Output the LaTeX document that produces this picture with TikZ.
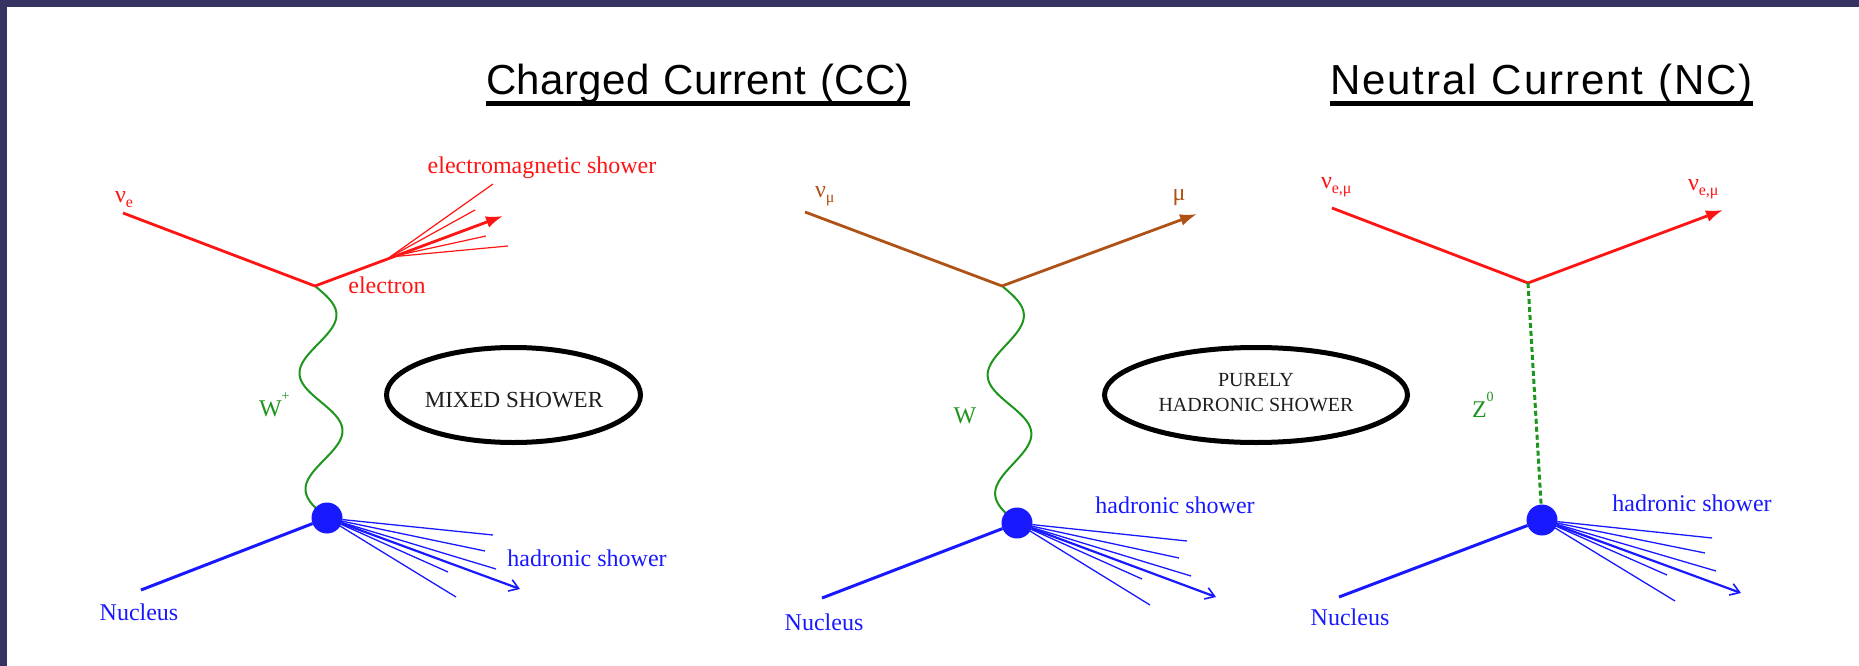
\documentclass[tikz,border=0pt]{standalone}
\usepackage{fontspec}
\setmainfont{Liberation Serif}
\newfontfamily\headfont[LetterSpace=1]{Liberation Sans}
\newfontfamily\headfontwide[LetterSpace=4.5]{Liberation Sans}
\usetikzlibrary{arrows.meta,calc,shapes.geometric}
\definecolor{frameblue}{RGB}{52,51,98}
\definecolor{nured}{RGB}{255,20,20}
\definecolor{mubrown}{RGB}{176,82,22}
\definecolor{bosongreen}{RGB}{30,150,30}
\definecolor{hadblue}{RGB}{25,25,255}
\definecolor{inktext}{RGB}{30,30,30}
% lowered / raised indices for particle labels
\newcommand{\lowidx}[1]{\raisebox{-5pt}{\fontsize{16}{16}\selectfont #1}}
\newcommand{\highidx}[1]{\raisebox{16pt}{\fontsize{14}{14}\selectfont #1}}
\pgfdeclarelayer{paper}
\pgfdeclarelayer{back}
\pgfsetlayers{paper,back,main}

\begin{document}
\begin{tikzpicture}[x=1pt,y=-1pt,
  every node/.style={inner sep=0pt, outer sep=0pt},
  lab/.style={font=\fontsize{24}{28}\selectfont, anchor=base},
  heading/.style={font=\fontsize{42}{48}\selectfont, anchor=base west},
  uline/.style={line width=4.5pt},
  fermion/.style={line width=2.8pt},
  fermionarrow/.style={line width=2.8pt, -{Latex[length=17pt,width=12pt]}},
  emray/.style={nured, line width=1.2pt},
  hadray/.style={hadblue, line width=1.3pt},
  hadarrow/.style={hadblue, line width=2.2pt, -{Straight Barb[length=9pt,width=12pt,line width=1.6pt]}},
  nucleusline/.style={hadblue, line width=3pt},
  vertexdot/.style={circle, fill=hadblue, minimum size=31pt},
  wboson/.style={bosongreen, line width=2pt, line join=round},
  zboson/.style={bosongreen, line width=3pt, dash pattern=on 5pt off 3pt},
  showerbox/.style={ellipse, draw=black, line width=5pt, minimum height=95pt},
  showertext/.style={text=inktext, align=center}
]
\useasboundingbox (0,0) rectangle (1859,666);
\begin{pgfonlayer}{paper}
\fill[white] (0,0) rectangle (1859,666);
\fill[frameblue] (0,0) rectangle (1859,7);
\fill[frameblue] (0,0) rectangle (7,666);
\end{pgfonlayer}

% ---------- headings ----------
\node[heading] (cc) at (486,95) {\headfont\makebox[424pt][s]{Charged Current (CC)}};
\draw[uline] ([yshift=-8.5pt]cc.base west) -- ([yshift=-8.5pt]cc.base east);
\node[heading] (nc) at (1330,95) {\headfontwide\makebox[423pt][s]{Neutral Current (NC)}};
\draw[uline] ([yshift=-8.5pt]nc.base west) -- ([yshift=-8.5pt]nc.base east);

% ---------- CC, electron neutrino ----------
\coordinate (in1) at (123,213);
\coordinate (v1) at (315,286);
\coordinate (e1) at (503,216);
\coordinate (f1) at (390,257);
\coordinate (em1) at (493,184);
\coordinate (em2) at (475,210);
\coordinate (em3) at (486,236);
\coordinate (em4) at (508,246);
\node[vertexdot] (d1) at (327,518) {};
\coordinate (n1) at (141,590);
\coordinate (h1a) at (493,535);
\coordinate (h1b) at (485,551);
\coordinate (h1c) at (496,569);
\coordinate (h1d) at (448,572);
\coordinate (h1e) at (456,597);
\coordinate (h1x) at (520,589);

\draw[fermion, nured] (in1) -- (v1);
\draw[fermionarrow, nured] (v1) -- (e1);
\foreach \t in {em1,em2,em3,em4} \draw[emray] (f1) -- (\t);
% W boson: two sine periods from the lepton vertex to the nucleus blob
\begin{pgfonlayer}{back}
\draw[wboson] let \p1=(v1), \p2=(d1.center), \n1={veclen(\x2-\x1,\y2-\y1)} in
  plot[domain=0:1, samples=121, variable=\s]
  ({\x1+(\x2-\x1)*\s-(\y2-\y1)/\n1*20*sin(720*\s)},
   {\y1+(\y2-\y1)*\s+(\x2-\x1)/\n1*20*sin(720*\s)});
\end{pgfonlayer}
\draw[nucleusline] (n1) -- (d1);
\foreach \t in {h1a,h1b,h1c,h1d,h1e} \draw[hadray] (d1) -- (\t);
\draw[hadarrow] (d1) -- (h1x);

\node[lab, anchor=base west, text=nured] (lnue) at (115,202) {ν\lowidx{e}};
\node[lab, text=nured] (lem) at (542,173) {electromagnetic shower};
\node[lab, text=nured] (lel) at (387,293) {electron};
\node[lab, anchor=base west, text=bosongreen] (lw1) at (259,416) {W\highidx{+}};
\node[lab, text=hadblue] (lnuc1) at (139,620) {Nucleus};
\node[lab, text=hadblue] (lhad1) at (587,566) {hadronic shower};
\node[showerbox, minimum width=254pt] (ell1) at (513.5,395) {};
\node[lab, text=inktext, font=\fontsize{23}{26}\selectfont] (mix) at (514,407) {MIXED SHOWER};

% ---------- CC, muon neutrino ----------
\coordinate (in2) at (805,212);
\coordinate (v2) at (1002,286);
\coordinate (mu2) at (1197,214);
\node[vertexdot] (d2) at (1017,523) {};
\coordinate (n2) at (822,598);
\coordinate (h2a) at (1187,541);
\coordinate (h2b) at (1179,558);
\coordinate (h2c) at (1191,576);
\coordinate (h2d) at (1142,579);
\coordinate (h2e) at (1150,605);
\coordinate (h2x) at (1216,597);

\draw[fermion, mubrown] (in2) -- (v2);
\draw[fermionarrow, mubrown] (v2) -- (mu2);
\begin{pgfonlayer}{back}
\draw[wboson] let \p1=(v2), \p2=(d2.center), \n1={veclen(\x2-\x1,\y2-\y1)} in
  plot[domain=0:1, samples=121, variable=\s]
  ({\x1+(\x2-\x1)*\s-(\y2-\y1)/\n1*20*sin(720*\s)},
   {\y1+(\y2-\y1)*\s+(\x2-\x1)/\n1*20*sin(720*\s)});
\end{pgfonlayer}
\draw[nucleusline] (n2) -- (d2);
\foreach \t in {h2a,h2b,h2c,h2d,h2e} \draw[hadray] (d2) -- (\t);
\draw[hadarrow] (d2) -- (h2x);

\node[lab, anchor=base west, text=mubrown] (lnumu) at (815,197) {ν\lowidx{μ}};
\node[lab, text=mubrown] (lmu) at (1179,200) {μ};
\node[lab, text=bosongreen] (lw2) at (965,423) {W};
\node[lab, text=hadblue] (lnuc2) at (824,630) {Nucleus};
\node[lab, text=hadblue] (lhad2) at (1175,513) {hadronic shower};
\node[showerbox, minimum width=303pt] (ell2) at (1256,395) {};
\node[showertext, font=\fontsize{20}{25}\selectfont] (pure) at (1256,393) {PURELY\\HADRONIC SHOWER};

% ---------- NC ----------
\coordinate (in3) at (1332,208);
\coordinate (v3) at (1528,283);
\coordinate (out3) at (1723,210);
\node[vertexdot] (d3) at (1542,520) {};
\coordinate (n3) at (1339,597);
\coordinate (h3a) at (1712,538);
\coordinate (h3b) at (1705,553);
\coordinate (h3c) at (1716,571);
\coordinate (h3d) at (1667,575);
\coordinate (h3e) at (1675,601);
\coordinate (h3x) at (1741,593);

\draw[fermion, nured] (in3) -- (v3);
\draw[fermionarrow, nured] (v3) -- (out3);
\draw[zboson] (v3) -- (d3);
\draw[nucleusline] (n3) -- (d3);
\foreach \t in {h3a,h3b,h3c,h3d,h3e} \draw[hadray] (d3) -- (\t);
\draw[hadarrow] (d3) -- (h3x);

\node[lab, anchor=base west, text=nured] (lnuin) at (1321,188) {ν\lowidx{e,μ}};
\node[lab, anchor=base west, text=nured] (lnuout) at (1688,190) {ν\lowidx{e,μ}};
\node[lab, anchor=base west, text=bosongreen] (lz) at (1472,417) {Z\highidx{0}};
\node[lab, text=hadblue] (lnuc3) at (1350,625) {Nucleus};
\node[lab, text=hadblue] (lhad3) at (1692,511) {hadronic shower};
\end{tikzpicture}
\end{document}
